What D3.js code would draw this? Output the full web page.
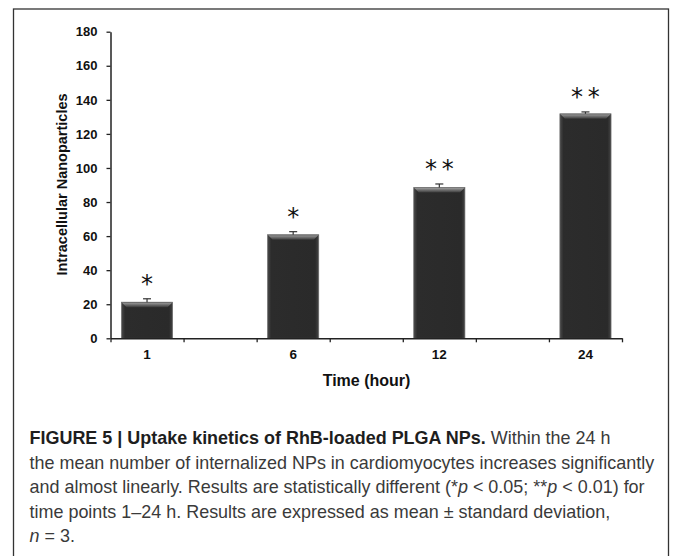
<!DOCTYPE html>
<html>
<head>
<meta charset="utf-8">
<script src="https://cdn.jsdelivr.net/npm/d3@7"></script>
<style>
  html, body { margin: 0; padding: 0; background: #fff; }
  svg { display: block; }
</style>
</head>
<body>
<svg id="chart" width="673" height="556"></svg>
<script>
// ---- data ----
const categories = ["1", "6", "12", "24"];
const means = [21.2, 60.8, 88.5, 131.8];
const sds = [2.0, 1.8, 2.1, 1.1];
const sigLabels = ["*", "*", "**", "**"];
const yTicks = [0, 20, 40, 60, 80, 100, 120, 140, 160, 180];
const xTitle = "Time (hour)";
const yTitle = "Intracellular Nanoparticles";
const slotCount = 7;           // Excel-style category slots (data in every other slot)
const slotOfCategory = [0, 2, 4, 6];

// ---- layout ----
const svg = d3.select("#chart");
const W = 673, H = 556;
const plot = { left: 110.5, right: 622, top: 31.7, bottom: 338.3 };
const fontChart = "'Liberation Sans', Arial, sans-serif";

// frame
svg.append("rect")
  .attr("x", 13.5).attr("y", 9).attr("width", 655).attr("height", 600)
  .attr("fill", "none").attr("stroke", "#333").attr("stroke-width", 1.3);

const x = d3.scaleLinear().domain([0, slotCount]).range([plot.left, plot.right]);
const y = d3.scaleLinear().domain([0, 180]).range([plot.bottom, plot.top]);
const slotW = x(1) - x(0);
const barW = slotW * 0.70;

// defs: gradients for bevelled bars
const defs = svg.append("defs");
const gH = defs.append("linearGradient").attr("id", "barH").attr("x1", 0).attr("x2", 1).attr("y1", 0).attr("y2", 0);
[["0%", "#4a4a4a"], ["7%", "#2c2c2c"], ["93%", "#2a2a2a"], ["100%", "#444"]].forEach(([o, c]) =>
  gH.append("stop").attr("offset", o).attr("stop-color", c));
const gT = defs.append("linearGradient").attr("id", "barT").attr("x1", 0).attr("x2", 0).attr("y1", 0).attr("y2", 1);
[["0%", "#9a9a9a"], ["100%", "#3a3a3a"]].forEach(([o, c]) =>
  gT.append("stop").attr("offset", o).attr("stop-color", c));

const data = categories.map((c, i) => ({ cat: c, mean: means[i], sd: sds[i], sig: sigLabels[i], slot: slotOfCategory[i] }));
const cx = d => x(d.slot + 0.5);

// bars
const bars = svg.append("g");
bars.selectAll("rect.bar").data(data).join("rect")
  .attr("class", "bar")
  .attr("x", d => cx(d) - barW / 2)
  .attr("y", d => y(d.mean))
  .attr("width", barW)
  .attr("height", d => y(0) - y(d.mean))
  .attr("fill", "url(#barH)")
  .attr("stroke", "#6a6a6a").attr("stroke-width", 0.7);
const bev = 5;
bars.selectAll("path.bevel").data(data).join("path")
  .attr("class", "bevel")
  .attr("d", d => {
    const x0 = cx(d) - barW / 2, x1 = cx(d) + barW / 2, t = y(d.mean);
    return `M${x0 + 0.5},${t + 0.5}L${x1 - 0.5},${t + 0.5}L${x1 - bev},${t + bev}L${x0 + bev},${t + bev}Z`;
  })
  .attr("fill", "url(#barT)");

// error bars (upper whisker only)
const eb = svg.append("g").attr("stroke", "#333").attr("stroke-width", 1.2);
eb.selectAll("line.v").data(data).join("line")
  .attr("x1", cx).attr("x2", cx)
  .attr("y1", d => y(d.mean)).attr("y2", d => y(d.mean + d.sd));
eb.selectAll("line.c").data(data).join("line")
  .attr("x1", d => cx(d) - 4).attr("x2", d => cx(d) + 4)
  .attr("y1", d => y(d.mean + d.sd)).attr("y2", d => y(d.mean + d.sd));

// significance stars
const starSize = 24;
svg.append("g").selectAll("text").data(data).join("text")
  .attr("x", cx)
  .attr("y", d => y(d.mean + d.sd) - 19 + starSize * 0.52)
  .attr("text-anchor", "middle")
  .attr("font-family", "'DejaVu Sans', sans-serif")
  .attr("font-size", starSize)
  .attr("letter-spacing", 0)
  .attr("fill", "#111")
  .text(d => d.sig.split("").join("\u2009"));

// y axis
const yAxis = svg.append("g").attr("transform", `translate(${plot.left},0)`)
  .call(d3.axisLeft(y).tickValues(yTicks).tickSize(4).tickSizeOuter(0).tickPadding(9));
yAxis.select(".domain").attr("stroke", "#222").attr("stroke-width", 1.5);
yAxis.selectAll(".tick line").attr("stroke", "#222").attr("stroke-width", 1.3);
yAxis.selectAll(".tick text")
  .attr("font-family", fontChart).attr("font-weight", "bold").attr("font-size", 13).attr("fill", "#111");

// x axis
const xAxis = svg.append("g").attr("transform", `translate(0,${plot.bottom})`)
  .call(d3.axisBottom(x).tickValues(d3.range(slotCount + 1)).tickSize(4).tickSizeOuter(0).tickFormat(""));
xAxis.select(".domain").attr("stroke", "#222").attr("stroke-width", 1.5);
xAxis.selectAll(".tick line").attr("stroke", "#222").attr("stroke-width", 1.3);

svg.append("g").selectAll("text").data(data).join("text")
  .attr("x", cx).attr("y", plot.bottom + 21)
  .attr("text-anchor", "middle")
  .attr("font-family", fontChart).attr("font-weight", "bold").attr("font-size", 13.5).attr("fill", "#111")
  .text(d => d.cat);

// axis titles
svg.append("text")
  .attr("x", 366.5).attr("y", 386)
  .attr("text-anchor", "middle")
  .attr("font-family", fontChart).attr("font-weight", "bold").attr("font-size", 16).attr("fill", "#111")
  .text(xTitle);
svg.append("text")
  .attr("transform", `translate(67,184.5) rotate(-90)`)
  .attr("text-anchor", "middle")
  .attr("font-family", fontChart).attr("font-weight", "bold").attr("font-size", 14.5).attr("fill", "#111")
  .text(yTitle);

// caption
const capFont = "'Liberation Sans', Arial, sans-serif";
const capLines = [
  [{ t: "FIGURE 5 | Uptake kinetics of RhB-loaded PLGA NPs.", b: true }, { t: " Within the 24 h" }],
  [{ t: "the mean number of internalized NPs in cardiomyocytes increases significantly" }],
  [{ t: "and almost linearly. Results are statistically different (*" }, { t: "p", i: true }, { t: " < 0.05; **" }, { t: "p", i: true }, { t: " < 0.01) for" }],
  [{ t: "time points 1\u201324 h. Results are expressed as mean \u00b1 standard deviation," }],
  [{ t: "n", i: true }, { t: " = 3." }]
];
const capBase = [444, 468.5, 493, 517.5, 542];
const cap = svg.append("g").attr("font-family", capFont).attr("fill", "#3a3a3a");
const capTexts = capLines.map((segs, li) => {
  const t = cap.append("text").attr("x", 29.5).attr("y", capBase[li]).attr("font-size", 16);
  segs.forEach(s => {
    t.append("tspan")
      .attr("font-weight", s.b ? "bold" : null)
      .attr("fill", s.b ? "#1e1e1e" : null)
      .attr("font-style", s.i ? "italic" : null)
      .text(s.t);
  });
  return t;
});
// fit caption width to the frame (line 2 spans the text block)
const w2 = capTexts[1].node().getComputedTextLength();
const fs = 16 * 625 / w2;
capTexts.forEach(t => t.attr("font-size", fs));
</script>
</body>
</html>
